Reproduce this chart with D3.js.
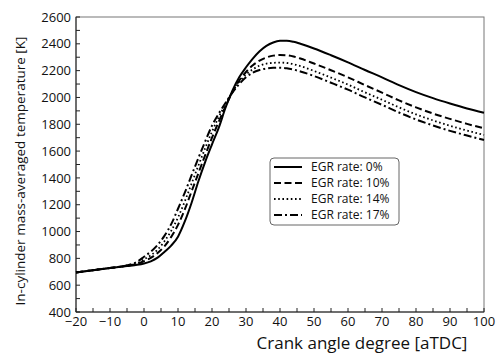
<!DOCTYPE html>
<html><head><meta charset="utf-8">
<script src="https://cdn.jsdelivr.net/npm/d3@7"></script>
<style>body{margin:0;background:#fff}svg{display:block}text{font-family:"Open Sans",sans-serif;fill:#111}</style>
</head><body><svg id="c" width="497" height="354"></svg>
<script>
const crank = [-20,-15,-10,-5,-2,0,2,4,6,8,10,12,14,16,18,20,22,24,26,28,30,32,34,36,38,40,42,44,46,50,55,60,65,70,75,80,85,90,95,100];
const egr0  = [695,712,728,743,752,762,778,805,848,895,962,1075,1215,1375,1520,1650,1775,1925,2050,2150,2225,2290,2345,2385,2410,2422,2423,2415,2400,2365,2315,2262,2205,2150,2092,2040,1995,1955,1918,1886];
const egr10 = [695,712,728,745,758,780,803,840,890,960,1050,1165,1300,1435,1570,1700,1820,1935,2040,2125,2190,2240,2275,2298,2312,2316,2314,2305,2290,2253,2203,2150,2092,2036,1978,1926,1880,1840,1803,1770];
const egr14 = [695,712,728,746,765,793,823,865,927,1005,1105,1225,1358,1492,1622,1745,1855,1950,2040,2115,2170,2210,2237,2252,2258,2260,2257,2248,2234,2198,2148,2096,2038,1983,1926,1874,1829,1789,1753,1720];
const egr17 = [695,712,728,748,775,812,850,900,968,1055,1170,1290,1420,1548,1672,1790,1880,1960,2035,2100,2150,2185,2205,2216,2221,2222,2218,2208,2194,2160,2110,2058,2000,1945,1888,1836,1791,1751,1716,1683];
const seriesNames = ["EGR rate: 0%","EGR rate: 10%","EGR rate: 14%","EGR rate: 17%"];
const xTicks = [-20,-10,0,10,20,30,40,50,60,70,80,90,100];
const yTicks = [400,600,800,1000,1200,1400,1600,1800,2000,2200,2400,2600];
const xTitle = "Crank angle degree [aTDC]";
const yTitle = "In-cylinder mass-averaged temperature [K]";

const series = [egr0, egr10, egr14, egr17];
const dashes = [null, "7,3.5", "1.6,2.6", "8,3,2,3"];
const svg = d3.select("#c");
const L=76,R=484,T=17,B=312;
const x = d3.scaleLinear().domain([-20,100]).range([L,R]);
const y = d3.scaleLinear().domain([400,2600]).range([B,T]);

// frame
svg.append("rect").attr("x",L).attr("y",T).attr("width",R-L).attr("height",B-T)
  .attr("fill","none").attr("stroke","#777").attr("stroke-width",1);

// ticks inside
const minorX = d3.range(-20,101,5), minorY = d3.range(400,2601,100);
svg.append("g").selectAll("line").data(minorX).join("line")
  .attr("x1",d=>x(d)).attr("x2",d=>x(d)).attr("y1",B).attr("y2",B-4).attr("stroke","#222");
svg.append("g").selectAll("line").data(minorY).join("line")
  .attr("y1",d=>y(d)).attr("y2",d=>y(d)).attr("x1",L).attr("x2",L+4).attr("stroke","#222");
svg.append("line").attr("x1",L).attr("x2",R).attr("y1",B).attr("y2",B).attr("stroke","#222");
svg.append("line").attr("x1",L).attr("x2",L).attr("y1",T).attr("y2",B).attr("stroke","#222");

const fmt = d => d<0 ? "\u2212"+Math.abs(d) : String(d);
svg.append("g").selectAll("text").data(xTicks).join("text")
  .attr("x",d=>x(d)).attr("y",B+14).attr("text-anchor","middle").attr("font-size",13).text(fmt);
svg.append("g").selectAll("text").data(yTicks).join("text")
  .attr("x",L-5).attr("y",d=>y(d)).attr("dy","0.36em").attr("text-anchor","end").attr("font-size",13).text(d=>d);

svg.append("text").attr("x",362).attr("y",349).attr("text-anchor","middle").attr("font-size",17).text(xTitle);
svg.append("text").attr("transform","translate(25,171) rotate(-90)").attr("text-anchor","middle").attr("font-size",13.5).text(yTitle);

// lines
const line = d3.line().x((d,i)=>x(crank[i])).y(d=>y(d)).curve(d3.curveMonotoneX);
series.forEach((s,k)=>{
  svg.append("path").attr("d",line(s)).attr("fill","none").attr("stroke","#000")
    .attr("stroke-width",k==2?1.8:2).attr("stroke-dasharray",dashes[k]);
});

// legend
const lg = svg.append("g");
lg.append("rect").attr("x",270).attr("y",158).attr("width",129).attr("height",67).attr("rx",4)
  .attr("fill","#fff").attr("stroke","#666").attr("stroke-width",1);
seriesNames.forEach((n,k)=>{
  const yy = 167 + k*16;
  lg.append("line").attr("x1",274).attr("x2",302).attr("y1",yy).attr("y2",yy).attr("stroke","#000")
    .attr("stroke-width",2).attr("stroke-dasharray",dashes[k]);
  lg.append("text").attr("x",311).attr("y",yy).attr("dy","0.36em").attr("font-size",12).text(n);
});
</script></body></html>
